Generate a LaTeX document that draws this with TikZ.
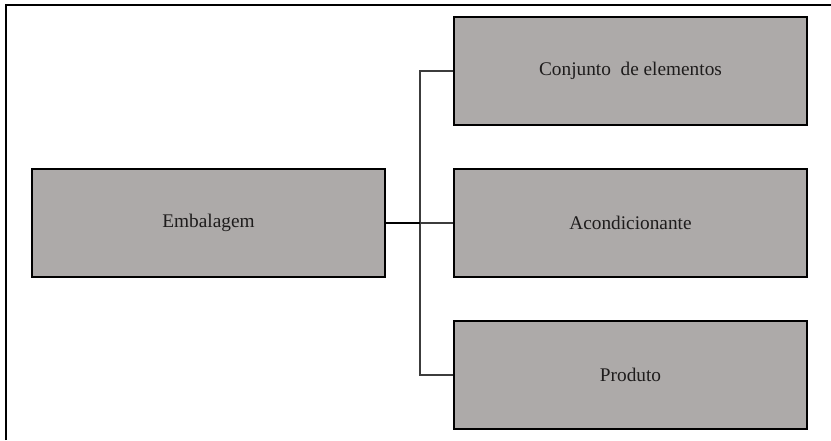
\documentclass[tikz,border=0pt]{standalone}
\usepackage{fontspec}
\setmainfont{Liberation Serif}
\definecolor{boxfill}{HTML}{ADAAA9}
\definecolor{boxtext}{HTML}{1E1C1C}
\definecolor{linkgray}{HTML}{3C3C3C}
\begin{document}
\begin{tikzpicture}[x=1pt,y=-1pt,
  block/.style={draw=black, line width=2.2pt, fill=boxfill, rectangle,
    minimum width=353pt, minimum height=108pt, inner sep=0pt,
    text=boxtext, font=\fontsize{19.3}{22}\selectfont},
  link/.style={draw=linkgray, line width=1.1pt},
  trunk/.style={draw=black, line width=2pt},
  frameline/.style={draw=black, line width=2pt}]
  \useasboundingbox (0,0) rectangle (831,440);

  % outer frame (only top and left edges fall inside the page)
  \draw[frameline] (5.5,440) -- (5.5,5) -- (831,5);

  % boxes
  \node[block] (emb)   at (208.5,223)   {Embalagem};
  \node[block] (conj)  at (630.5,71)    {Conjunto\ \ de elementos};
  \node[block] (acond) at (630.5,223)   {Acondicionante};
  \node[block] (prod)  at (630.5,375)   {Produto};

  % bracket connecting the root to its three parts
  \coordinate (bus) at (420,223);
  \draw[link] (conj.west) -| (bus) |- (prod.west);
  \draw[link] (bus) -- (acond.west);
  \draw[trunk] (emb.east) -- (bus);
\end{tikzpicture}
\end{document}
